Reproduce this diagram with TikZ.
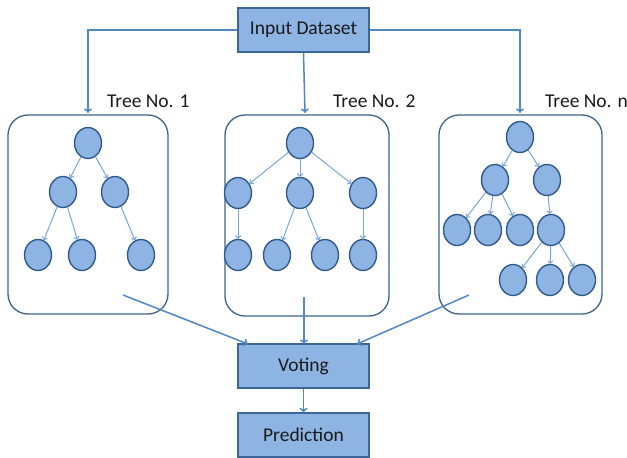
\documentclass[tikz,border=0pt]{standalone}
\usepackage{fontspec}
\setmainfont{Carlito}
\usetikzlibrary{shapes.geometric,arrows.meta}
\definecolor{boxfill}{HTML}{8EB4E3}
\definecolor{boxline}{HTML}{3D6596}
\definecolor{arrowc}{HTML}{4F86C6}
\definecolor{treeline}{HTML}{3F628F}
\definecolor{edgec}{HTML}{7AA5D8}
\definecolor{nodeline}{HTML}{2F5A8E}
\definecolor{txt}{HTML}{1A1A1A}
\tikzset{
  mainbox/.style={draw=boxline, line width=1.3pt, fill=boxfill, minimum width=131pt, minimum height=44pt, inner sep=0pt, text=txt, font=\fontsize{19.5}{22}\selectfont},
  treebox/.style={draw=treeline, line width=1.3pt, rounded corners=20pt},
  tnode/.style={ellipse, draw=nodeline, line width=1.4pt, fill=boxfill, minimum width=27pt, minimum height=31pt, inner sep=0pt},
  flow/.style={draw=arrowc, line width=1.5pt, -{To[length=4.5pt,width=8pt]}},
  tedge/.style={draw=edgec, line width=1pt, -{To[length=3.5pt,width=6pt]}},
  lbl/.style={font=\fontsize{19.5}{22}\selectfont, text=txt, inner sep=0pt}
}
\begin{document}
\begin{tikzpicture}[x=1pt,y=-1pt]
\useasboundingbox (0,0) rectangle (627,458);
% main boxes
\node[mainbox] (input) at (303.5,30) {Input Dataset};
\node[mainbox] (voting) at (303.5,366) {Voting};
\node[mainbox] (pred) at (303.5,435) {Prediction};
% tree boxes
\draw[treebox] (8,115) rectangle (168,314);
\draw[treebox] (225,115) rectangle (389,316);
\draw[treebox] (439,115) rectangle (602,314);
\coordinate (t1top) at (88,113);
\coordinate (t2top) at (305,113);
\coordinate (t3top) at (520,113);
% labels
\node[lbl, anchor=west] (l1) at (107,101) {Tree No. 1};
\node[lbl, anchor=west] (l2) at (333,101) {Tree No. 2};
\node[lbl, anchor=west] (l3) at (545,101) {Tree No. n};
% input flows
\draw[flow] (input.west) -| (t1top);
\draw[flow] (input.east) -| (t3top);
\draw[flow] (input.south) -- (t2top);
% to voting
\coordinate (s1) at (123,295);
\coordinate (s2) at (304,297);
\coordinate (s3) at (469,295);
\coordinate (v1) at (248,344);
\coordinate (v2) at (304,344);
\coordinate (v3) at (357,344);
\draw[flow] (s1) -- (v1);
\draw[flow] (s2) -- (v2);
\draw[flow] (s3) -- (v3);
\draw[flow] (voting.south) -- (pred.north);
% tree 1
\node[tnode] (a0) at (88,143) {};
\node[tnode] (a1) at (63,192) {};
\node[tnode] (a2) at (115,192) {};
\node[tnode] (a3) at (38,255) {};
\node[tnode] (a4) at (82,255) {};
\node[tnode] (a5) at (141,255) {};
\draw[tedge] (a0) -- (a1);
\draw[tedge] (a0) -- (a2);
\draw[tedge] (a1) -- (a3);
\draw[tedge] (a1) -- (a4);
\draw[tedge] (a2) -- (a5);
% tree 2
\node[tnode] (b0) at (300,143) {};
\node[tnode] (b1) at (238,193) {};
\node[tnode] (b2) at (300,193) {};
\node[tnode] (b3) at (363,193) {};
\node[tnode] (b4) at (238,255) {};
\node[tnode] (b5) at (277,255) {};
\node[tnode] (b6) at (325,255) {};
\node[tnode] (b7) at (363,255) {};
\draw[tedge] (b0) -- (b1);
\draw[tedge] (b0) -- (b2);
\draw[tedge] (b0) -- (b3);
\draw[tedge] (b1) -- (b4);
\draw[tedge] (b2) -- (b5);
\draw[tedge] (b2) -- (b6);
\draw[tedge] (b3) -- (b7);
% tree 3
\node[tnode] (c0) at (520,137) {};
\node[tnode] (c1) at (495,180) {};
\node[tnode] (c2) at (547,180) {};
\node[tnode] (c3) at (457,230) {};
\node[tnode] (c4) at (488,230) {};
\node[tnode] (c5) at (520,230) {};
\node[tnode] (c6) at (551,230) {};
\node[tnode] (c7) at (513,280) {};
\node[tnode] (c8) at (550,280) {};
\node[tnode] (c9) at (582,280) {};
\draw[tedge] (c0) -- (c1);
\draw[tedge] (c0) -- (c2);
\draw[tedge] (c1) -- (c3);
\draw[tedge] (c1) -- (c4);
\draw[tedge] (c1) -- (c5);
\draw[tedge] (c2) -- (c6);
\draw[tedge] (c6) -- (c7);
\draw[tedge] (c6) -- (c8);
\draw[tedge] (c6) -- (c9);
\end{tikzpicture}
\end{document}
